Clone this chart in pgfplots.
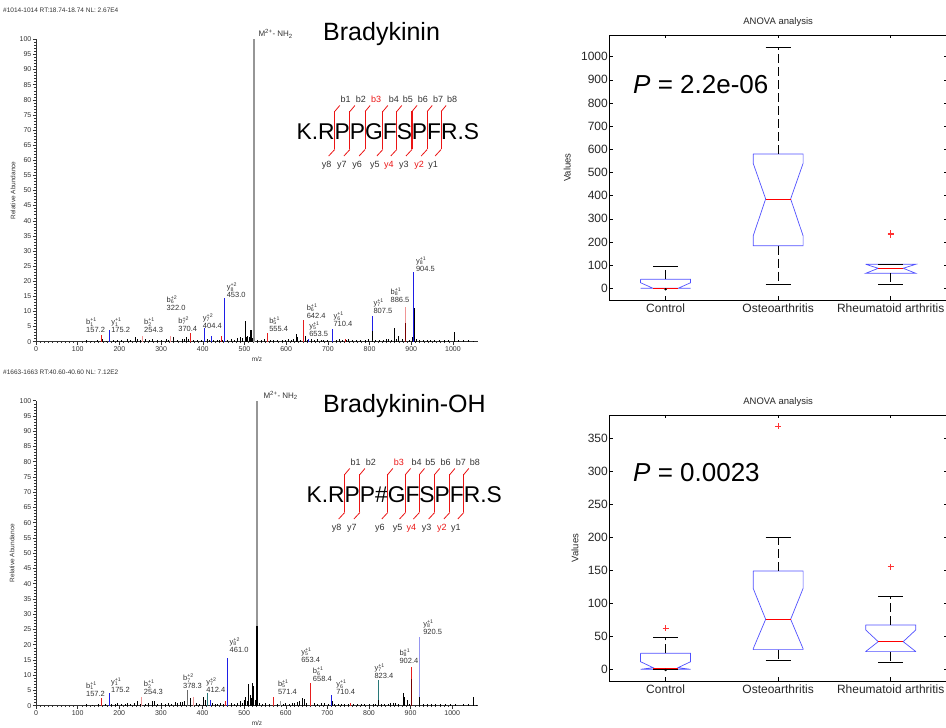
\documentclass[border=0pt]{standalone}
\usepackage{fontspec}
\setmainfont{Liberation Sans}
\usepackage{pgfplots}
\pgfplotsset{compat=1.18}

\definecolor{specblue}{RGB}{30,30,230}
\definecolor{specred}{RGB}{230,30,30}
\definecolor{specpink}{RGB}{240,150,150}
\definecolor{specgray}{RGB}{150,150,150}
\definecolor{specdred}{RGB}{120,0,0}
\definecolor{specteal}{RGB}{40,120,120}
\definecolor{speclav}{RGB}{150,150,240}
\definecolor{boxblue}{RGB}{80,80,255}
\definecolor{outred}{RGB}{255,50,50}
\definecolor{fragred}{RGB}{235,20,20}
\definecolor{labgray}{RGB}{50,50,50}

\newcommand\ion[3]{#1\rlap{\textsubscript{#2}}\textsuperscript{+#3}}

% fragment marker between two residues
\newcommand\seqmark[5]{%
  \begin{scope}[shift={(#1.base east)}]
    \draw[fragred, line width=1.1pt] (0pt,28.5pt) -- (0pt,-9.5pt);
    \draw[fragred, line width=0.8pt] (0pt,28.5pt) -- (5pt,34.5pt);
    \draw[fragred, line width=0.8pt] (0pt,-9.5pt) -- (-6pt,-16pt);
    \node[text=#4, font=\fontsize{9}{10}\selectfont, inner sep=0pt] at (11pt,41pt) {#2};
    \node[text=#5, font=\fontsize{9}{10}\selectfont, inner sep=0pt] at (-8pt,-25pt) {#3};
  \end{scope}}

\tikzset{lab/.style={anchor=south west, align=left, inner sep=0pt,
    font=\fontsize{7.5}{8}\selectfont, text=labgray}}

\pgfplotsset{
  spec/.style={scale only axis, anchor=south west, width=442pt, xmin=0,
    ymin=0, ymax=100, axis lines*=left, clip=false, tick align=outside,
    xtick={0,100,...,1000}, ytick={0,5,...,100},
    minor x tick num=9, minor y tick num=4,
    major tick length=3pt, minor tick length=1.5pt,
    tick style={black!80, line width=0.4pt},
    axis line style={black!80, line width=0.5pt},
    tick label style={font=\fontsize{7}{8}\selectfont, text=black!80},
    xticklabel style={inner sep=2pt}, yticklabel style={inner sep=1.5pt},
    /pgf/number format/1000 sep={}, /pgf/number format/assume math mode=true,
    xlabel={m/z}, ylabel={Relative Abundance},
    label style={font=\fontsize{6.5}{7}\selectfont, text=black!80}},
  pk/.style={ycomb, no marks, line width=0.8pt},
  boxax/.style={scale only axis, anchor=south west, width=337.7pt,
    xmin=0.5, xmax=3.5, xtick={1,2,3},
    xticklabels={Control,Osteoarthritis,Rheumatoid arthritis},
    tick align=inside, major tick length=3.5pt,
    tick style={black, line width=0.5pt},
    axis line style={black, line width=0.7pt},
    tick label style={font=\fontsize{12}{14}\selectfont, text=black!85},
    yticklabel style={inner sep=1.3pt}, xticklabel style={inner sep=4pt},
    /pgf/number format/1000 sep={}, /pgf/number format/assume math mode=true,
    title={ANOVA analysis},
    title style={font=\fontsize{9.5}{11}\selectfont, text=black!85,
      at={(axis description cs:0.5,1)}, anchor=center, yshift=6.5pt},
    ylabel={Values},
    ylabel style={font=\fontsize{9.5}{11}\selectfont, text=black!85, anchor=center},
    clip=false, unbounded coords=jump},
  bx/.style={boxblue, line width=0.7pt, no marks},
  md/.style={red, line width=0.7pt, no marks},
  wh/.style={black, line width=0.6pt, dash pattern=on 9pt off 4pt, no marks},
  cap/.style={black, line width=0.6pt, no marks},
  ol/.style={outred, only marks, mark=+, mark size=3pt, line width=0.6pt}
}

\begin{document}
\begin{tikzpicture}

% ---------------- top spectrum ----------------
\node[anchor=base west, inner sep=0pt, font=\fontsize{6.5}{7}\selectfont, text=labgray]
  at (3pt,715.3pt) {\#1014-1014 RT:18.74-18.74 NL: 2.67E4};
\begin{axis}[spec, at={(36pt,386.3pt)}, height=302.4pt, xmax=1060,
  xlabel style={at={(axis description cs:0.5,-0.058)}, anchor=center},
  ylabel style={at={(axis description cs:-0.052,0.5)}, anchor=center}]
\addplot[pk, black] coordinates {
 (120,0.4) (132,0.3) (148,0.5) (160,0.8) (170,0.3) (186,0.5) (196,0.7) (204,0.4)
 (218,0.9) (226,0.4) (238,1.5) (244,1.0) (250,0.6) (262,0.8) (272,0.5) (280,0.9)
 (290,0.4) (300,0.6) (312,0.8) (318,0.5) (330,1.4) (340,0.7) (352,0.8) (356,1.0)
 (360,1.6) (366,0.9) (378,0.6) (386,0.5) (396,0.7) (404,3.0) (410,0.8) (416,0.6)
 (426,0.5) (434,0.6) (440,0.7) (448,0.5) (460,0.6) (468,0.8) (476,0.5) (484,1.2)
 (490,1.5) (496,1.3) (501,6.8) (505,1.5) (508,2.0) (511,1.5) (514,4.0) (517,4.0)
 (520,1.2) (530,0.6) (540,0.5) (548,0.8) (562,0.5) (570,0.6) (578,0.4) (590,0.7)
 (598,0.5) (606,0.8) (612,0.6) (618,1.0) (624,2.6) (627,1.5) (634,0.7) (645,2.0)
 (650,0.6) (660,0.8) (668,0.5) (676,0.9) (684,0.6) (690,0.7) (698,0.5) (712,1.5)
 (720,0.6) (728,1.0) (736,0.7) (744,0.6) (750,0.9) (758,0.5) (768,0.4) (778,0.5)
 (790,0.6) (798,0.8) (815,0.6) (824,0.5) (832,0.7) (840,0.9) (846,0.8) (852,0.6)
 (860,4.5) (864,1.0) (870,1.8) (878,0.8) (896,0.7) (902,1.5) (912,0.8) (920,0.6)
 (930,0.5) (938,0.6) (946,0.5) (956,0.5) (968,0.4) (980,0.4) (990,0.5) (1003,3.2)
 (1012,0.4) (1024,0.5) (1036,0.4) (1048,0.3)};
\addplot[pk, specpink] coordinates {(254.3,2) (322.0,2) (886.5,11.5)};
\addplot[pk, specdred] coordinates {(886.5,6.3)};
\addplot[pk, specred] coordinates {(157.2,2.2) (370.4,3) (444,2) (555.4,2.8) (642.4,7.1) (741,0.8)};
\addplot[pk, specblue] coordinates {(175.2,4) (404.4,4.4) (420,2) (453.0,14.4) (653.5,0.9) (710.4,4.2) (807.5,8.6) (904.5,23)};
\addplot[pk, black] coordinates {(807.5,3.5) (906.5,11)};
\addplot[pk, specgray, line width=1.2pt] coordinates {(523,100)};
\node[lab] at (axis cs:120,2.8) {\ion{b}{1}{1}\\157.2};
\node[lab] at (axis cs:180,2.8) {\ion{y}{1}{1}\\175.2};
\node[lab] at (axis cs:259,2.8) {\ion{b}{2}{1}\\254.3};
\node[lab] at (axis cs:313,10.2) {\ion{b}{6}{2}\\322.0};
\node[lab] at (axis cs:341,3.3) {\ion{b}{7}{2}\\370.4};
\node[lab] at (axis cs:400,4.2) {\ion{y}{7}{2}\\404.4};
\node[lab] at (axis cs:457,14.4) {\ion{y}{8}{2}\\453.0};
\node[lab] at (axis cs:559,3.3) {\ion{b}{5}{1}\\555.4};
\node[lab] at (axis cs:649,7.7) {\ion{b}{6}{1}\\642.4};
\node[lab] at (axis cs:655,1.7) {\ion{y}{5}{1}\\653.5};
\node[lab] at (axis cs:713,4.8) {\ion{y}{6}{1}\\710.4};
\node[lab] at (axis cs:809,9.2) {\ion{y}{7}{1}\\807.5};
\node[lab] at (axis cs:850,13) {\ion{b}{8}{1}\\886.5};
\node[lab] at (axis cs:911,23.2) {\ion{y}{8}{1}\\904.5};
\end{axis}
\node[anchor=base west, inner sep=0pt, font=\fontsize{8}{9}\selectfont, text=labgray]
  at (258.3pt,691.3pt) {M\textsuperscript{2+}- NH\textsubscript{2}};
\node[anchor=base west, inner sep=0pt, font=\fontsize{25}{28}\selectfont]
  at (323pt,687.3pt) {Bradykinin};
\begin{scope}[every node/.style={inner sep=0pt, outer sep=0pt, anchor=base west,
    font=\fontsize{22.8}{24}\selectfont}]
\node (a0) at (296.7pt,588pt) {K.R};
\node (a1) at (a0.base east) {P};
\node (a2) at (a1.base east) {P};
\node (a3) at (a2.base east) {G};
\node (a4) at (a3.base east) {F};
\node (a5) at (a4.base east) {S};
\node (a6) at (a5.base east) {P};
\node (a7) at (a6.base east) {F};
\node (a8) at (a7.base east) {R.S};
\end{scope}
\seqmark{a0}{b1}{y8}{labgray}{labgray}
\seqmark{a1}{b2}{y7}{labgray}{labgray}
\seqmark{a2}{b3}{y6}{fragred}{labgray}
\seqmark{a3}{b4}{y5}{labgray}{labgray}
\seqmark{a4}{b5}{y4}{labgray}{fragred}
\seqmark{a5}{b6}{y3}{labgray}{labgray}
\seqmark{a6}{b7}{y2}{labgray}{fragred}
\seqmark{a7}{b8}{y1}{labgray}{labgray}

% ---------------- bottom spectrum ----------------
\node[anchor=base west, inner sep=0pt, font=\fontsize{6.5}{7}\selectfont, text=labgray]
  at (3pt,353.5pt) {\#1663-1663 RT:40.60-40.60 NL: 7.12E2};
\begin{axis}[spec, at={(36pt,22.3pt)}, height=305pt, xmax=1062,
  xlabel style={at={(axis description cs:0.5,-0.058)}, anchor=center},
  ylabel style={at={(axis description cs:-0.054,0.5)}, anchor=center}]
\addplot[pk, black] coordinates {
 (120,0.4) (135,0.3) (150,0.5) (166,0.4) (180,0.5) (190,0.6) (196,1.0) (206,0.5)
 (214,0.7) (220,1.0) (228,0.6) (236,0.8) (244,1.5) (250,0.7) (262,0.6) (270,1.0)
 (280,1.6) (284,1.4) (292,0.6) (302,0.8) (310,0.7) (318,0.8) (326,0.7) (334,1.2)
 (340,1.0) (346,1.3) (352,1.1) (356,1.5) (370,2.5) (386,0.8) (392,0.6) (402,3.0)
 (406,1.8) (424,0.8) (430,0.6) (436,0.7) (444,1.0) (450,0.7) (470,0.8) (476,0.6)
 (484,1.0) (490,1.5) (496,1.0) (500,1.8) (504,3.0) (508,1.5) (511,7.2) (514,3.5)
 (518,2.5) (520,7.5) (523,6.5) (526,2.0) (531,26) (536,1.0) (544,0.7) (552,0.8)
 (560,0.6) (580,0.6) (594,0.5) (600,0.8) (608,0.5) (616,0.9) (622,1.0) (628,1.2)
 (634,1.5) (640,2.5) (644,2.2) (650,1.0) (660,3.0) (668,0.8) (676,0.6) (686,1.0)
 (694,0.8) (702,0.5) (712,1.5) (718,0.7) (726,0.5) (734,0.7) (742,0.6) (750,0.5)
 (762,0.7) (772,0.5) (782,0.6) (790,0.5) (800,0.4) (810,0.6) (816,0.7) (830,0.6)
 (838,0.5) (846,0.6) (852,0.8) (858,1.0) (864,0.8) (870,0.7) (882,4.3) (885,3.0)
 (892,2.0) (896,0.6) (930,0.6) (940,0.7) (950,0.5) (960,0.6) (972,0.5) (984,0.6)
 (995,0.5) (1008,0.5) (1026,0.5) (1040,0.4) (1050,2.8) (1058,0.3)};
\addplot[pk, specgray!70!black] coordinates {(363,5.1)};
\addplot[pk, specgray] coordinates {(587,1.5)};
\addplot[pk, specpink] coordinates {(254.3,3.0) (378.3,3.0)};
\addplot[pk, specred] coordinates {(157.2,2.5) (455,1.5) (571.4,2.7) (658.4,7.3) (755,1.0) (902.4,12.7)};
\addplot[pk, specdred] coordinates {(902.4,8.7)};
\addplot[pk, specblue] coordinates {(175.2,4.3) (420,2) (461.0,15.8) (710.4,3.5)};
\addplot[pk, specteal] coordinates {(412.4,4) (823.4,8.5)};
\addplot[pk, speclav] coordinates {(920.5,22.5)};
\addplot[pk, black] coordinates {(823.4,2.0) (921,2.8)};
\addplot[pk, specgray, line width=1.2pt] coordinates {(531,100)};
\addplot[pk, black, line width=1.2pt] coordinates {(531,26)};
\node[lab] at (axis cs:120,3.0) {\ion{b}{1}{1}\\157.2};
\node[lab] at (axis cs:180,4.3) {\ion{y}{1}{1}\\175.2};
\node[lab] at (axis cs:259,3.5) {\ion{b}{2}{1}\\254.3};
\node[lab] at (axis cs:353,5.4) {\ion{b}{7}{2}\\378.3};
\node[lab] at (axis cs:409,4.3) {\ion{y}{7}{2}\\412.4};
\node[lab] at (axis cs:465,17.4) {\ion{y}{8}{2}\\461.0};
\node[lab] at (axis cs:581,3.5) {\ion{b}{5}{1}\\571.4};
\node[lab] at (axis cs:637,14.1) {\ion{y}{5}{1}\\653.4};
\node[lab] at (axis cs:665,7.7) {\ion{b}{6}{1}\\658.4};
\node[lab] at (axis cs:721,3.5) {\ion{y}{6}{1}\\710.4};
\node[lab] at (axis cs:813,8.8) {\ion{y}{7}{1}\\823.4};
\node[lab] at (axis cs:873,13.9) {\ion{b}{8}{1}\\902.4};
\node[lab] at (axis cs:930,23.2) {\ion{y}{8}{1}\\920.5};
\end{axis}
\node[anchor=base west, inner sep=0pt, font=\fontsize{8}{9}\selectfont, text=labgray]
  at (263.3pt,329.7pt) {M\textsuperscript{2+}- NH\textsubscript{2}};
\node[anchor=base west, inner sep=0pt, font=\fontsize{25}{28}\selectfont]
  at (323pt,315.3pt) {Bradykinin-OH};
\begin{scope}[every node/.style={inner sep=0pt, outer sep=0pt, anchor=base west,
    font=\fontsize{22.8}{24}\selectfont}]
\node (c0) at (306.7pt,225pt) {K.R};
\node (c1) at (c0.base east) {P};
\node (c2) at (c1.base east) {P\#};
\node (c3) at (c2.base east) {G};
\node (c4) at (c3.base east) {F};
\node (c5) at (c4.base east) {S};
\node (c6) at (c5.base east) {P};
\node (c7) at (c6.base east) {F};
\node (c8) at (c7.base east) {R.S};
\end{scope}
\seqmark{c0}{b1}{y8}{labgray}{labgray}
\seqmark{c1}{b2}{y7}{labgray}{labgray}
\seqmark{c2}{b3}{y6}{fragred}{labgray}
\seqmark{c3}{b4}{y5}{labgray}{labgray}
\seqmark{c4}{b5}{y4}{labgray}{fragred}
\seqmark{c5}{b6}{y3}{labgray}{labgray}
\seqmark{c6}{b7}{y2}{labgray}{fragred}
\seqmark{c7}{b8}{y1}{labgray}{labgray}

% ---------------- top boxplot ----------------
\begin{axis}[boxax, at={(609.3pt,428pt)}, height=265pt, ymin=-50.5, ymax=1093.7,
  ytick={0,100,...,1000},
  ylabel style={at={(axis description cs:-0.1244,0.5)}}]
% control
\addplot[bx] coordinates {(0.778,39) (1.222,39) (1.222,24) (1.111,0) (0.889,0) (0.778,24) (0.778,39) (1,nan) (0.778,0) (1.222,0)};
\addplot[md] coordinates {(0.889,0) (1.111,0)};
\addplot[wh] coordinates {(1,39) (1,93.5)};
\addplot[cap] coordinates {(0.889,93.5) (1.111,93.5)};
\addplot[black, only marks, mark=*, mark size=1pt] coordinates {(1,-4)};
% osteoarthritis
\addplot[bx] coordinates {(1.778,580) (2.222,580) (2.222,540) (2.111,386) (2.222,226) (2.222,184) (1.778,184) (1.778,226) (1.889,386) (1.778,540) (1.778,580)};
\addplot[md] coordinates {(1.889,386) (2.111,386)};
\addplot[wh] coordinates {(2,580) (2,1039) (2,nan) (2,184) (2,19)};
\addplot[cap] coordinates {(1.889,1039) (2.111,1039) (2,nan) (1.889,19) (2.111,19)};
% rheumatoid arthritis
\addplot[bx] coordinates {(2.778,103.6) (3.222,103.6) (3.111,86.4) (3.222,64.8) (2.778,64.8) (2.889,86.4) (2.778,103.6)};
\addplot[md] coordinates {(2.889,86.4) (3.111,86.4)};
\addplot[wh] coordinates {(3,64.8) (3,18.6)};
\addplot[cap] coordinates {(2.889,18.6) (3.111,18.6) (3,nan) (2.889,103.6) (3.111,103.6)};
\addplot[ol] coordinates {(3,237) (3,231)};
\end{axis}
\node[anchor=base west, inner sep=0pt, font=\fontsize{26}{29}\selectfont]
  at (633pt,634.7pt) {\textit{P} = 2.2e-06};

% ---------------- bottom boxplot ----------------
\begin{axis}[boxax, at={(609.3pt,47pt)}, height=266pt, ymin=-17.7, ymax=385.3,
  ytick={0,50,...,350},
  ylabel style={at={(axis description cs:-0.1016,0.5)}}]
% control
\addplot[bx] coordinates {(0.778,24.2) (1.222,24.2) (1.222,11.5) (1.111,2.5) (1.222,0) (0.778,0) (0.889,2.5) (0.778,11.5) (0.778,24.2)};
\addplot[md, line width=1.6pt] coordinates {(0.889,1.5) (1.111,1.5)};
\addplot[cap] coordinates {(0.889,0) (1.111,0)};
\addplot[wh] coordinates {(1,24.2) (1,48.5)};
\addplot[cap] coordinates {(0.889,48.5) (1.111,48.5)};
\addplot[black, only marks, mark=*, mark size=1pt] coordinates {(1,-1)};
\addplot[ol] coordinates {(1,62)};
% osteoarthritis
\addplot[bx] coordinates {(1.778,149) (2.222,149) (2.222,122.7) (2.111,75.8) (2.222,31) (2.222,29.8) (1.778,29.8) (1.778,31) (1.889,75.8) (1.778,122.7) (1.778,149)};
\addplot[md] coordinates {(1.889,75.8) (2.111,75.8)};
\addplot[wh] coordinates {(2,149) (2,200.5) (2,nan) (2,29.8) (2,13.1)};
\addplot[cap] coordinates {(1.889,200.5) (2.111,200.5) (2,nan) (1.889,13.1) (2.111,13.1)};
\addplot[ol] coordinates {(2,368)};
% rheumatoid arthritis
\addplot[bx] coordinates {(2.778,67.2) (3.222,67.2) (3.222,59.6) (3.111,41.9) (3.222,27) (3.222,26.8) (2.778,26.8) (2.778,27) (2.889,41.9) (2.778,59.6) (2.778,67.2)};
\addplot[md] coordinates {(2.889,41.9) (3.111,41.9)};
\addplot[wh] coordinates {(3,67.2) (3,110) (3,nan) (3,26.8) (3,10.6)};
\addplot[cap] coordinates {(2.889,110) (3.111,110) (3,nan) (2.889,10.6) (3.111,10.6)};
\addplot[ol] coordinates {(3,155.6)};
\end{axis}
\node[anchor=base west, inner sep=0pt, font=\fontsize{26}{29}\selectfont]
  at (633pt,246.3pt) {\textit{P} = 0.0023};

\pgfresetboundingbox
\path[use as bounding box] (0,0) rectangle (946pt,728pt);
\end{tikzpicture}
\end{document}
